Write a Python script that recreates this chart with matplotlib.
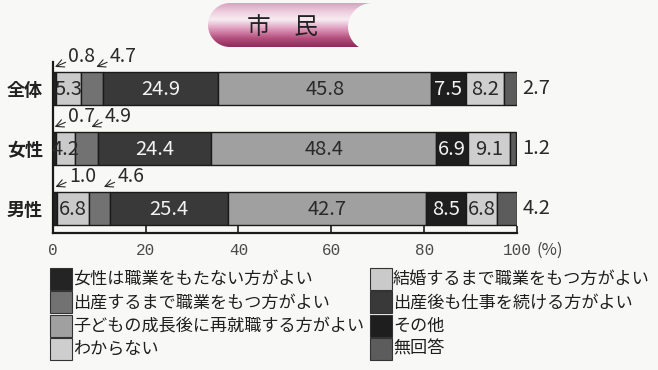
import matplotlib
matplotlib.use('Agg')
import matplotlib.pyplot as plt
import numpy as np
from matplotlib.patches import Rectangle, Circle, PathPatch
from matplotlib.path import Path

plt.rcParams['font.family'] = ['Noto Sans CJK JP', 'DejaVu Sans']

# ---------------- data ----------------
title = '市　民'
groups = ['全体', '女性', '男性']
categories = ['女性は職業をもたない方がよい', '結婚するまで職業をもつ方がよい',
              '出産するまで職業をもつ方がよい', '出産後も仕事を続ける方がよい',
              '子どもの成長後に再就職する方がよい', 'その他',
              'わからない', '無回答']
values_all = [0.8, 5.3, 4.7, 24.9, 45.8, 7.5, 8.2, 2.7]
values_female = [0.7, 4.2, 4.9, 24.4, 48.4, 6.9, 9.1, 1.2]
values_male = [1.0, 6.8, 4.6, 25.4, 42.7, 8.5, 6.8, 4.2]
xticks = [0, 20, 40, 60, 80, 100]
x_unit = '(%)'

# ---------------- style ----------------
bg = '#f8f8f6'
bar_colors = ['#242424', '#cacaca', '#727272', '#393939',
              '#a0a0a0', '#1e1e1e', '#cecece', '#5c5c5c']
inside_idx = [1, 3, 4, 5, 6]
arrow_idx = [0, 2]
white_text_idx = [3, 5]

W, H = 658, 370
fig = plt.figure(figsize=(W / 100, H / 100), dpi=100, facecolor=bg)

ax_l, ax_r, ax_t, ax_b = 52.7, 517.0, 62.0, 233.0
ax = fig.add_axes([ax_l / W, (H - ax_b) / H, (ax_r - ax_l) / W, (ax_b - ax_t) / H])
ax.set_facecolor('none')
ax.set_xlim(0, 100)
ax.set_ylim(2.408, -0.442)

rows = [values_all, values_female, values_male]
bh = 0.55
for i, vals in enumerate(rows):
    lefts = np.concatenate([[0], np.cumsum(vals)[:-1]])
    ax.barh([i] * len(vals), vals, left=lefts, height=bh, color=bar_colors,
            edgecolor='#1a1a1a', linewidth=1.0, zorder=2)
    for j in inside_idx:
        ax.text(lefts[j] + vals[j] / 2, i + 0.02, f'{vals[j]:.1f}', ha='center', va='center',
                fontsize=14.5, color='#f2f2f2' if j in white_text_idx else '#2a2a2a', zorder=3)
    # outside label for last category
    ax.annotate(f'{vals[-1]:.1f}', xy=(lefts[-1] + vals[-1], i), xytext=(6, 0),
                textcoords='offset pixels', ha='left', va='center', fontsize=14.5,
                color='#2a2a2a', annotation_clip=False)
    for j, frac in zip(arrow_idx, [0.6, 0.7]):
        hx = lefts[j] + vals[j] * frac
        ax.annotate(f'{vals[j]:.1f}', xy=(hx, i - 0.36), xytext=(27, 10),
                    textcoords='offset pixels', ha='center', va='center', fontsize=14,
                    color='#2a2a2a', annotation_clip=False,
                    arrowprops=dict(arrowstyle='->', lw=0.8, color='#2a2a2a',
                                    shrinkA=0, shrinkB=0, relpos=(0.0, 0.3)))

for s in ['top', 'right']:
    ax.spines[s].set_visible(False)
ax.spines['left'].set_linewidth(1.6)
ax.spines['bottom'].set_linewidth(1.6)
ax.spines['left'].set_color('#1a1a1a')
ax.spines['bottom'].set_color('#1a1a1a')

ax.set_yticks(range(len(groups)))
ax.set_yticklabels(groups, fontsize=13, fontweight='bold', color='#222222')
ax.tick_params(axis='y', length=0, pad=7)

ax.set_xticks(xticks)
ax.set_xticklabels([str(t) for t in xticks], family='Liberation Mono', fontsize=11.5,
                   color='#4a4a4a')
ax.tick_params(axis='x', direction='in', length=5, width=1.2, pad=7, color='#1a1a1a')
ax.text(104.3, 2.69, x_unit, ha='left', va='center', fontsize=12, color='#444444',
        clip_on=False)

# ---------------- legend ----------------
for k, (lab, col) in enumerate(zip(categories, bar_colors)):
    r, c = divmod(k, 2)
    x0 = [50, 370][c]
    yc = 279 + r * 23.3
    fig.patches.append(Rectangle((x0 / W, 1 - (yc + 11) / H), 22 / W, 22 / H,
                                 transform=fig.transFigure, facecolor=col,
                                 edgecolor='#333333', lw=0.8))
    fig.text((x0 + 23) / W, 1 - yc / H, lab, ha='left', va='center', fontsize=12.3,
             color='#1e1e1e')

# ---------------- title banner ----------------
ov = fig.add_axes([0, 0, 1, 1])
ov.set_xlim(0, W)
ov.set_ylim(H, 0)
ov.axis('off')
ov.patch.set_alpha(0)

th = np.linspace(np.pi / 2, 3 * np.pi / 2, 40)
cx, cy, rr = 230, 25, 22
pts = list(zip(cx + rr * np.cos(th), cy - rr * np.sin(th)))
pts += [(372, 47), (372, 3), pts[0]]
codes = [Path.MOVETO] + [Path.LINETO] * (len(pts) - 2) + [Path.CLOSEPOLY]
banner = PathPatch(Path(pts, codes), facecolor='none', edgecolor='none')
ov.add_patch(banner)

stops = np.array([0.0, 0.2, 0.38, 0.6, 0.8, 1.0])
cols = np.array([[0.85, 0.62, 0.74], [0.93, 0.80, 0.87], [0.97, 0.93, 0.95],
                 [0.86, 0.58, 0.72], [0.70, 0.30, 0.48], [0.55, 0.15, 0.35]])
yy = np.linspace(0, 1, 60)
grad = np.stack([np.interp(yy, stops, cols[:, c]) for c in range(3)], axis=-1)
grad = np.repeat(grad[:, None, :], 4, axis=1)
im = ov.imshow(grad, extent=[205, 380, 48, 2], aspect='auto', interpolation='bilinear')
im.set_clip_path(banner)
ov.add_patch(Circle((372, 27), 24, facecolor=bg, edgecolor='none', zorder=5))
ov.set_xlim(0, W)
ov.set_ylim(H, 0)
ov.text(282, 27, title, ha='center', va='center', fontsize=17, color='#222222', zorder=6)

fig.savefig('out.png', dpi=100, facecolor=bg)
